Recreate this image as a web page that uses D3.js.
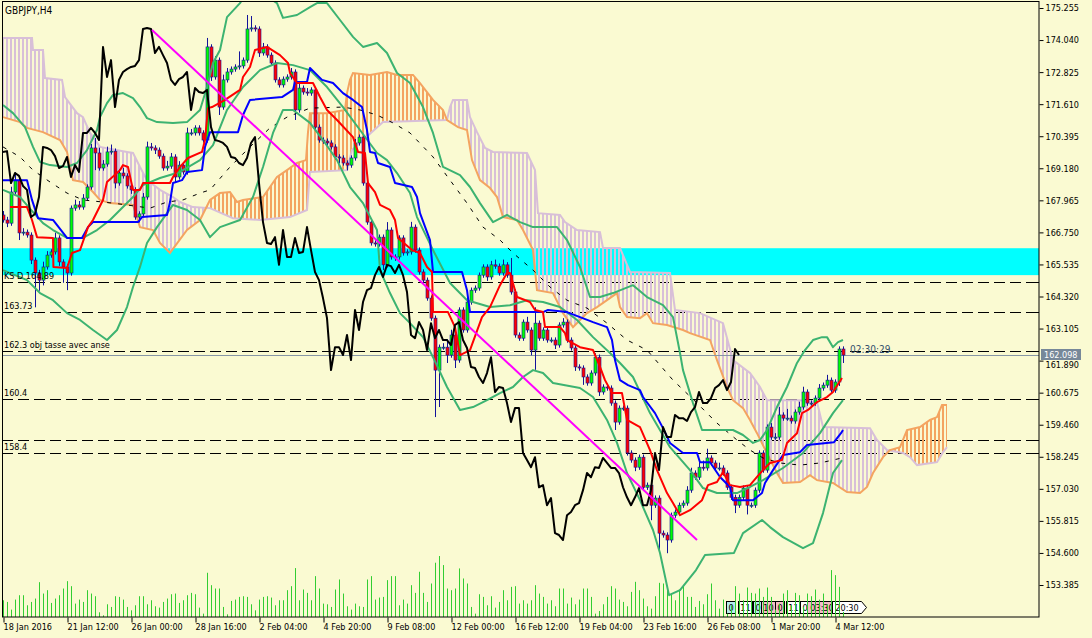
<!DOCTYPE html>
<html>
<head>
<meta charset="utf-8">
<title>GBPJPY,H4</title>
<script src="https://cdn.jsdelivr.net/npm/d3@7"></script>
<style>
html, body { margin: 0; padding: 0; background: #FAFAD2; }
svg { display: block; }
text { font-family: "DejaVu Sans Condensed", "DejaVu Sans", sans-serif; font-stretch: condensed; }
</style>
</head>
<body>
<div class="canvas"></div>
<script>
// ---- data (prices in JPY, bars are H4) ----
const firstOpen = 167.41;
const closes = [
  167.22, 167.10, 168.28, 168.73, 166.73, 166.76, 166.65, 165.70, 165.21, 164.94,
  165.44, 165.89, 166.01, 166.54, 165.63, 165.44, 165.21, 167.67, 167.79, 167.71,
  168.05, 168.47, 169.95, 169.76, 169.19, 169.34, 169.80, 169.83, 168.62, 169.00,
  168.89, 168.51, 168.36, 167.33, 167.45, 168.09, 169.99, 169.95, 169.87, 169.64,
  169.19, 169.26, 169.61, 168.85, 169.30, 169.04, 170.52, 170.52, 170.71, 170.52,
  170.25, 173.78, 172.64, 173.28, 171.50, 172.53, 172.83, 172.94, 173.02, 173.06,
  173.28, 174.46, 174.50, 174.46, 173.55, 173.78, 173.47, 173.17, 172.53, 172.34,
  172.56, 172.64, 172.83, 171.39, 172.22, 172.07, 172.03, 172.15, 170.74, 170.25,
  170.21, 170.14, 169.99, 169.61, 169.57, 169.38, 169.30, 169.57, 170.14, 170.36,
  168.62, 167.14, 166.35, 166.31, 166.57, 165.52, 166.84, 165.82, 165.82, 166.54,
  165.97, 166.01, 166.95, 166.08, 165.25, 164.94, 164.26, 163.50, 161.53, 162.40,
  162.40, 162.10, 162.86, 161.91, 163.81, 163.05, 164.11, 164.56, 164.64, 165.13,
  165.44, 165.06, 165.52, 165.47, 165.21, 165.52, 165.13, 164.49, 162.86, 162.74,
  163.35, 163.05, 162.29, 163.31, 162.74, 163.05, 162.67, 162.67, 162.48, 163.24,
  163.35, 162.67, 162.37, 161.65, 161.61, 161.27, 161.04, 161.42, 162.02, 160.70,
  160.89, 160.85, 160.28, 159.56, 160.09, 160.09, 158.39, 158.12, 157.85, 158.23,
  157.09, 157.17, 156.41, 156.68, 155.35, 155.28, 155.09, 156.03, 156.15, 156.41,
  156.49, 156.98, 157.63, 157.47, 157.85, 157.82, 158.20, 158.01, 157.82, 157.82,
  157.63, 157.09, 156.71, 156.41, 156.71, 157.06, 156.41, 156.41, 156.98, 158.39,
  157.74, 159.37, 158.99, 158.99, 159.83, 159.71, 159.71, 159.60, 159.94, 160.13,
  160.70, 160.28, 160.28, 160.47, 160.85, 160.96, 161.15, 160.77, 161.08, 162.33,
  162.10
];
const upWick = [
  .15,.12,.2,.3,.1,.15,.1,.1,.1,.12,  .2,.15,.1,.2,.1,.1,.1,.1,.2,.15,
  .15,.1,.15,.38,.2,.15,.2,.25,.1,.15, .2,.1,.1,.1,.1,.15,.2,.15,.1,.1,
  .1,.2,.15,.1,.15,.1,.2,.15,.1,.1,  .1,.34,.1,.15,.1,.2,.15,.1,.1,.55,
  .1,.53,.45,.1,.1,.15,.1,.1,.1,.1,  .1,.1,.15,.1,.2,.1,.15,.1,.1,.1,
  .1,.1,.1,.1,.1,.1,.1,.1,.15,.1,    .1,.1,.1,.1,.1,.1,.3,.1,.1,.1,
  .1,.1,.2,.1,.1,.1,.1,.1,.1,.1,     .15,.3,.2,.1,.1,.1,.15,.1,.1,.1,
  .1,.1,.15,.2,.1,.2,.1,.65,.1,.1,   .1,.2,.1,.6,.1,.1,.1,.1,.1,.1,
  .15,.1,.1,.1,.1,.1,.1,.1,.15,.1,   .1,.1,.1,.1,.1,.1,.1,.1,.1,.1,
  .1,.1,.1,.1,.1,.1,.1,.1,.1,.1,     .1,.15,.2,.1,.3,.25,.35,.1,.1,.2,
  .1,.1,.1,.1,.1,.1,.1,.1,.1,.1,     .1,.1,.15,.15,.3,.1,.35,.1,.1,.2,
  .2,.1,.1,.1,.15,.1,.2,.1,.1,.1,    .1
];
const dnWick = [
  .1,.15,.1,.1,.27,.1,.1,.15,1.3,.4, .2,.1,.1,.1,.15,.6,.65,.1,.1,.1,
  .1,.1,.1,.65,.1,.1,.1,.1,.2,.1,    .1,.1,.15,.1,.2,.1,.1,.1,.15,.1,
  .1,.1,.1,.2,.1,.1,.1,.1,.1,.1,     .1,.1,.15,.1,.3,.1,.1,.1,.1,.1,
  .1,.1,.1,.1,.15,.1,.1,.1,.1,.1,    .1,.1,.1,.38,.1,.1,.1,.1,.15,.1,
  .1,.1,.1,.1,.2,.1,.2,.1,.1,.1,     .1,.1,.1,.1,.1,.2,.1,.1,.15,.1,
  .1,.1,.1,.1,.1,.1,.1,.1,1.78,1.4,  .1,.3,.1,.3,.1,.1,.1,.1,.1,.1,
  .1,.15,.1,.1,.1,.1,.1,.1,.1,.1,    .1,.1,.2,.75,.1,.1,.1,.1,.15,.1,
  .1,.1,.1,.15,.1,.3,.1,.1,.1,.15,   .1,.1,.1,.3,.1,.1,.1,.1,.15,.1,
  .1,.1,.57,.1,.65,.1,.5,.1,.1,.1,   .1,.1,.1,.1,.1,.1,.1,.1,.1,.1,
  .1,.1,.1,.3,.1,.1,.35,.1,.1,.1,    .1,.1,.1,.1,.1,.1,.1,.1,.1,.1,
  .1,.1,.1,.1,.1,.1,.1,.1,.1,.15,    .3
];
const volumes = [
  5000,4500,2200,5200,6500,6500,3500,4500,5500,10400,
  7000,8000,4200,5500,6500,8500,10700,9200,4000,5200,
  4500,8000,7000,6200,1400,500,3800,3000,6200,6000,
  5200,3000,2000,3500,6200,6200,3800,5000,3200,2800,
  4500,5500,6800,7000,4200,5000,6500,7200,6800,2800,
  1000,13200,9500,8500,8500,3000,800,4800,5200,6000,
  6200,6000,3800,2000,5200,6000,6200,5800,3500,5000,
  5000,8000,9200,14600,5000,8200,7200,5000,12200,8500,
  4000,3800,3000,8200,11200,7000,3200,2200,4000,3200,
  3000,11200,12200,5200,5800,6000,11000,12200,12200,3500,
  5200,4000,9500,7200,13500,7200,4500,10000,16200,18200,
  15500,8500,8000,8500,14500,11500,10000,3000,1000,6800,
  6000,3500,6200,2800,4500,8000,5000,9000,9200,4000,
  5000,4000,5000,9500,7000,6000,4000,5000,3200,8500,
  8500,4000,5800,3800,5200,8500,8500,6000,1000,1800,
  3800,6000,9200,8500,5200,4500,3200,7500,10500,8000,
  5500,3200,2500,6200,10200,10000,8000,6800,5000,8200,
  9500,6000,6000,3000,4800,3800,6800,10000,5000,2500,
  5200,1000,3500,9200,7000,5000,8800,7200,7000,8500,
  6000,8800,6000,2200,4000,7000,8000,3500,7200,6500,
  3000,7000,6200,8200,5200,7000,3800,14000,12500,9000,
  1500
];

// indicator lines, [bar index, price]
const tenkan = [[1.75,167.71],[6,167.71],[7.25,167.22],[8.5,166.57],[12.5,166.54],[12.6,165.44],[16,165.40],[17.25,165.97],[19.25,166.08],[21.25,166.95],[22.5,167.22],[25,167.98],[26,168.66],[29.25,169.11],[30,169.30],[31.25,169.23],[32.5,168.36],[34.25,168.36],[35,168.62],[41.75,168.62],[42.5,168.85],[44.25,169.23],[46.25,169.57],[49.75,169.80],[50.5,170.25],[51.25,171.46],[52.25,171.50],[55.5,171.77],[59.25,172.15],[60,172.64],[61.75,173.02],[63,173.66],[66,173.78],[69.25,173.47],[71.25,173.17],[71.75,172.79],[73.5,172.41],[77.5,172.41],[79.25,171.88],[81,171.39],[83.5,171.01],[87.5,170.36],[88.75,169.80],[90.5,169.76],[91.25,168.62],[93,168.28],[94.25,167.79],[96.75,167.60],[98,167.22],[98.75,166.54],[102.25,166.08],[104.25,165.97],[106,165.44],[107.25,165.25],[107.5,163.73],[111.25,163.73],[113,163.16],[114.25,162.10],[116.75,162.29],[119.75,163.54],[121.75,163.92],[124.25,164.75],[126,165.21],[126.75,165.21],[128.5,164.30],[131.75,164.11],[133,163.81],[135,163.73],[135.5,163.16],[139.25,163.16],[140.5,162.93],[141,162.67],[144.25,162.40],[147.5,162.29],[149.25,161.65],[150.5,161.15],[152.25,160.66],[154.75,160.66],[156,159.64],[159.25,159.37],[161.75,158.50],[163.5,157.74],[166,156.87],[167.5,156.49],[169.25,156.03],[171.75,156.22],[174.75,156.60],[176.25,157.17],[178.5,157.29],[180,157.67],[181.75,157.17],[184.25,157.10],[186.75,157.17],[188.5,157.48],[190,157.74],[191.75,158.01],[194.75,158.12],[196,158.77],[198.5,159.14],[199.75,159.90],[201.25,160.02],[203.5,160.32],[206,160.51],[207.5,160.70],[209.75,161.23]];
const kijun = [[0,168.73],[6,168.73],[7.25,167.98],[8.75,167.29],[12.5,167.22],[16,166.54],[19.75,166.54],[21.25,166.95],[22.5,167.14],[33.75,167.14],[34.75,167.33],[41,167.41],[41.75,167.90],[42.5,168.62],[44.75,168.73],[46,169.04],[49.75,169.11],[50.5,169.99],[51.75,170.55],[58.75,170.55],[60,171.20],[61.75,171.77],[69.75,171.88],[72.5,172.15],[73,172.45],[76,172.45],[76.75,172.98],[79.75,172.53],[82.5,172.41],[85,172.03],[87.5,171.77],[89.75,171.50],[91,170.63],[91.75,169.80],[93,169.76],[93.75,169.38],[96.75,169.23],[98,168.62],[102.25,168.47],[103.5,168.09],[104.25,167.48],[106.75,166.46],[107.5,165.25],[114.75,165.25],[116,164.56],[116.75,163.73],[135,163.73],[136.25,163.81],[141,163.73],[144.25,163.54],[147.5,163.35],[151,163.16],[152.25,162.67],[153,161.91],[154.25,161.15],[156.25,160.96],[159.25,160.77],[160,160.51],[163,159.90],[165,159.33],[166.75,158.77],[170,158.39],[173.5,158.39],[174.25,158.04],[176.75,158.04],[179.25,157.48],[181.75,157.10],[182.5,156.60],[187.5,156.60],[189.75,156.87],[190.5,157.25],[192.5,157.74],[195,158.31],[199.25,158.42],[201,158.69],[207.75,158.80],[209.5,159.14],[210,159.26]];
const spanA = [[0,171.12],[4.25,170.93],[6,170.71],[10,170.55],[14.25,170.25],[16,169.80],[16.75,169.23],[17.5,168.73],[20,168.66],[22.5,168.28],[24.25,167.98],[26.75,167.86],[32.5,167.79],[34.25,166.95],[37.5,166.84],[39.25,166.35],[41.75,165.97],[46,166.84],[49.25,167.22],[51.75,167.98],[54.25,168.24],[56.75,168.28],[58.5,167.90],[60,167.98],[65,168.09],[68.5,168.85],[71,169.11],[73.5,169.38],[75.75,169.49],[76.25,170.55],[76.75,171.27],[81,171.27],[85.5,171.39],[86,172.03],[86.75,172.53],[87.5,172.79],[91.75,172.72],[96,172.83],[98.5,172.72],[102.5,172.72],[104.25,172.41],[107.5,171.77],[110,171.39],[111,171.01],[113.75,170.74],[116,170.63],[117.25,169.49],[119.25,168.73],[121.75,168.43],[123.5,168.09],[125,167.33],[128.5,167.22],[130,166.84],[132.5,166.08],[133.5,164.56],[137.5,164.45],[140,163.69],[142.5,163.16],[144.25,163.43],[146,163.69],[148.5,163.92],[151,164.18],[153.5,164.45],[154.25,163.92],[156,163.54],[159.25,163.50],[161,163.69],[162.5,163.31],[166,163.24],[170,163.05],[171.75,162.93],[176.75,162.67],[178.5,161.91],[181,160.89],[182.5,160.39],[185,160.09],[186.75,159.64],[188.5,159.14],[191,158.38],[193.5,157.63],[195,157.25],[199.25,157.29],[201.75,157.55],[203.5,157.36],[207.5,157.25],[211,156.91],[214.25,156.87],[216,157.10],[217.5,157.63],[220,158.23],[221.75,158.50],[224.25,158.61],[226,159.26],[229.25,159.37],[231.75,159.64],[233.5,159.75],[234.75,160.21],[236,160.21]];
const spanB = [[0,174.12],[7.25,174.12],[7.5,173.66],[10,173.66],[10.5,172.60],[14.75,172.53],[15.5,171.88],[18.5,171.27],[20,171.12],[21.75,170.52],[24.25,169.99],[31,169.80],[32.5,169.76],[34.25,169.23],[36,168.73],[39.25,168.36],[42.5,168.09],[44.25,167.90],[47.5,167.71],[51.75,167.67],[57.5,167.29],[64.25,167.22],[71.75,167.33],[76,167.60],[76.75,169.04],[86,169.11],[87.25,169.87],[95,170.93],[111,171.01],[111.75,171.50],[112.5,171.77],[116,171.77],[116.75,171.12],[118.5,170.55],[120.5,169.95],[122.5,169.80],[131,169.76],[133,169.11],[133.75,167.48],[139.25,167.41],[140.5,167.14],[143.5,166.84],[149.25,166.76],[150,166.16],[154.25,166.16],[156.75,165.25],[166.75,165.21],[168,163.81],[174.25,163.69],[180,163.31],[182.5,161.91],[186.75,161.42],[189.25,160.89],[191,160.39],[199.25,160.39],[203.5,160.32],[205,159.37],[216.75,159.33],[218.5,158.88],[221,158.50],[225,158.39],[226.75,158.23],[228.5,157.93],[233.5,158.04],[235,158.42],[236,158.61]];
const bbUpper = [[0,171.58],[2.5,171.27],[5.5,170.74],[7.5,169.99],[9.25,169.42],[11.75,169.30],[16,169.23],[18.5,169.38],[21,169.87],[23.5,170.63],[24.25,171.12],[26,171.65],[27.5,171.96],[30,172.03],[32.5,171.84],[34.25,171.50],[36,171.08],[38.5,170.93],[42.5,170.90],[46,170.93],[49.25,171.39],[51,172.26],[52.5,173.17],[54.25,173.66],[56,174.91],[59.25,175.44],[60.5,175.75],[64.25,175.86],[68.5,175.44],[70,174.88],[73.5,174.99],[76.75,175.29],[78.5,175.44],[81,175.44],[84.25,174.80],[87.5,174.16],[90,173.78],[93.5,173.93],[96,173.55],[98.5,172.79],[101.75,172.41],[105,171.50],[107.5,170.52],[110,169.23],[114.25,168.92],[116.75,168.47],[119.25,167.86],[122.5,167.14],[126,167.41],[129.25,167.14],[132.5,166.95],[138.5,166.95],[141,166.46],[144.25,165.44],[146.75,164.30],[149.25,164.30],[152.5,164.45],[157.5,164.75],[161,164.30],[165,163.99],[167.5,163.54],[169.25,162.18],[170,161.53],[172.5,160.28],[174.75,159.26],[182.5,159.26],[185,159.07],[187.5,158.77],[189.25,158.88],[191,159.26],[193.5,160.13],[196,160.89],[198.5,161.80],[200.5,162.29],[202.5,162.67],[204.75,162.78],[206,162.78],[207.5,162.40],[208.75,162.59],[210,162.67]];
const bbMiddle = [[0,168.36],[4.25,168.09],[7.5,167.52],[10,167.10],[12.5,166.84],[16,166.54],[20,166.54],[23.5,166.84],[26.75,167.22],[30,167.71],[32.5,168.09],[35,168.54],[39.25,168.81],[44.25,169.04],[49.25,169.49],[52.5,170.06],[56,171.39],[60,172.26],[64.25,172.90],[68.5,173.17],[72.5,173.09],[76.75,172.90],[81,172.26],[85,171.50],[89.25,170.63],[93.5,169.76],[96,169.49],[98.5,169.00],[101.75,168.24],[103.5,167.33],[107.5,166.08],[111.75,164.83],[116,164.18],[121.75,163.92],[126.75,163.99],[131,164.18],[135,164.11],[139.25,163.92],[143.5,163.43],[147.5,162.78],[151.75,162.18],[154.25,161.80],[157.5,161.27],[161.75,159.90],[166.75,158.61],[171.75,157.74],[175,157.06],[178.5,156.87],[183.5,156.87],[186.75,157.10],[190,157.36],[195,157.82],[200,158.39],[204.25,159.14],[207.5,159.90],[210,160.39]];
const bbLower = [[0,165.32],[6,164.94],[9.25,164.45],[12.5,164.18],[16,163.69],[19.25,163.43],[22.5,163.05],[26,162.67],[28.5,163.05],[31,163.92],[32.5,164.68],[34.25,165.44],[36,166.35],[38.5,166.95],[42.5,167.79],[46,167.60],[49.25,167.22],[51.75,166.57],[54.25,166.95],[59.25,167.22],[62.5,168.09],[65,169.23],[67.5,170.52],[70,171.39],[72.5,171.39],[76.75,170.90],[80,170.25],[83.5,169.49],[86.75,168.47],[90,167.86],[93.5,166.84],[94.25,165.32],[96.75,164.45],[99.25,163.69],[101.75,163.31],[105,162.78],[107.5,162.02],[111,160.89],[114.25,160.02],[117.5,160.13],[121,160.39],[124.25,160.66],[127.5,160.89],[130,161.27],[132.5,161.53],[135,161.42],[137.5,161.04],[144.25,160.85],[147.5,160.51],[151,159.64],[153.5,158.77],[156,157.63],[159.25,156.60],[162.5,155.47],[164.25,154.60],[166.5,153.00],[169.25,153.19],[173.25,153.95],[175.5,154.52],[182.75,154.60],[185,155.35],[189.75,155.85],[191.75,155.58],[195,155.20],[200,154.78],[202.5,154.97],[205,156.11],[207.5,157.63],[209.75,158.12]];
const maSlow = [[0,169.99],[4.25,169.61],[7.5,169.11],[11.75,168.66],[16,168.24],[20,167.98],[27.5,167.86],[36.75,167.67],[41,167.90],[45,167.98],[49.25,168.24],[51.75,168.36],[56.75,169.23],[61.75,169.99],[66.75,170.71],[71,171.12],[76.75,171.46],[85,171.50],[89.25,171.39],[93.5,171.20],[97.5,170.90],[101.75,170.52],[107.5,169.61],[111.75,168.73],[116,167.86],[120,166.95],[124.25,166.46],[127.5,165.97],[132.5,165.32],[136.75,164.68],[141,164.18],[146,163.88],[151,163.31],[156,162.67],[161,162.29],[167.5,161.15],[173.5,160.28],[178.5,159.52],[183.5,158.88],[186.75,158.50],[190,158.20],[194.25,158.01],[199.25,157.93],[204.25,158.01],[209.75,158.20]];

const chikouShift = 26;
const trendBars = [37.25, 173.5];
const trendPrices = [174.42, 155.09];
const zonePrices = [165.13, 166.15];
const levelPrices = [164.87, 163.73, 162.25, 160.43, 158.88, 158.38];
const levelLabels = ["KS D 164.89", "163.73", "162.3 obj tasse avec anse", "160.4", "", "158.4"];
const currentPrice = 162.098;
const timerText = "02:30:29";
const priceTicks = [175.255, 174.040, 172.825, 171.610, 170.395, 169.180, 167.965, 166.750, 165.535, 164.320,
  163.105, 161.890, 160.675, 159.460, 158.245, 157.030, 155.815, 154.600, 153.385];
const dateTickBars = [0, 16, 32, 48, 64, 80, 96, 112, 128, 144, 160, 176, 192, 208];
const dateLabels = ["18 Jan 2016", "21 Jan 12:00", "26 Jan 00:00", "28 Jan 16:00", "2 Feb 04:00", "4 Feb 20:00",
  "9 Feb 08:00", "12 Feb 00:00", "16 Feb 12:00", "19 Feb 04:00", "23 Feb 16:00", "26 Feb 08:00", "1 Mar 20:00", "4 Mar 12:00"];
const sessionTexts = ["0", "11", "0", "10", "0", "11", "0", "03:30", "20:30"];
const sessionBars = [180.75, 183.75, 187.5, 189.5, 193, 195.75, 199.25, 201, 207.25];
const sessionFills = ["#b4ecec", "#ffffff", "#b4ecec", "#f4bcc6", "#f4bcc6", "#ffffff", "#ffffff", "#f4bcc6", "#ffffff"];

// ---- drawing ----
const W = 1092, H = 638;
const right = 1039, bottom = 617;

const svg = d3.select('.canvas').append('svg')
    .attr('width', W)
    .attr('height', H);

svg.append('rect').attr('width', W).attr('height', H).attr('fill', '#FAFAD2');

const x = d3.scaleLinear().domain([0, 210]).range([3, 843]);
const y = d3.scaleLinear().domain([153.385, 175.255]).range([585, 8]);
const vol = d3.scaleLinear().domain([0, 20000]).range([bottom, 550]);

const defs = svg.append('defs');
defs.append('clipPath').attr('id', 'plotClip')
    .append('rect').attr('x', 2).attr('y', 1).attr('width', right - 2).attr('height', bottom - 1);

// vertical hatching, one line per bar
function hatch(id, color) {
    const p = defs.append('pattern').attr('id', id)
        .attr('patternUnits', 'userSpaceOnUse')
        .attr('x', 2).attr('y', 0).attr('width', 4).attr('height', 8);
    p.append('rect').attr('width', 2).attr('height', 8).attr('fill', color)
        .attr('shape-rendering', 'crispEdges');
}
hatch('hatchA', '#F4A460');
hatch('hatchB', '#D8BFD8');

const above = d3.area().x(d => x(d[0])).y0(0).y1(d => y(d[1]));
const below = d3.area().x(d => x(d[0])).y0(bottom).y1(d => y(d[1]));
defs.append('clipPath').attr('id', 'aboveA').append('path').attr('d', above(spanA));
defs.append('clipPath').attr('id', 'aboveB').append('path').attr('d', above(spanB));

const plot = svg.append('g').attr('clip-path', 'url(#plotClip)');

// support zone
plot.append('rect')
    .attr('x', 2).attr('width', right - 2)
    .attr('y', y(zonePrices[1]))
    .attr('height', y(zonePrices[0]) - y(zonePrices[1]))
    .attr('fill', '#00FFFF');

// horizontal levels
plot.selectAll('line.level').data(levelPrices).enter().append('line')
    .attr('class', 'level')
    .attr('x1', 2).attr('x2', right)
    .attr('y1', d => Math.round(y(d)) + 0.5).attr('y2', d => Math.round(y(d)) + 0.5)
    .attr('stroke', '#000').attr('stroke-width', 1).attr('stroke-dasharray', '11,5');

// ichimoku cloud
plot.append('path').attr('d', below(spanA)).attr('fill', 'url(#hatchA)').attr('clip-path', 'url(#aboveB)');
plot.append('path').attr('d', below(spanB)).attr('fill', 'url(#hatchB)').attr('clip-path', 'url(#aboveA)');

const line = d3.line().x(d => x(d[0])).y(d => y(d[1]));

plot.append('path').attr('d', line(spanB)).attr('fill', 'none').attr('stroke', '#D8BFD8').attr('stroke-width', 2);
plot.append('path').attr('d', line(spanA)).attr('fill', 'none').attr('stroke', '#F4A460').attr('stroke-width', 2);

// current price line
plot.append('line')
    .attr('x1', 2).attr('x2', right)
    .attr('y1', Math.round(y(currentPrice)) + 0.5).attr('y2', Math.round(y(currentPrice)) + 0.5)
    .attr('stroke', '#8796a6').attr('stroke-width', 1);

// session labels
const sess = plot.append('g');
sessionTexts.forEach((t, k) => {
    const x0 = Math.round(x(sessionBars[k])) + 0.5;
    const w = t.length * 5 + 4;
    if (k === sessionTexts.length - 1) {
        sess.append('path')
            .attr('d', `M${x0},601.5 h${w} l5,6 l-5,6 h${-w} Z`)
            .attr('fill', sessionFills[k]).attr('stroke', '#000');
    } else {
        sess.append('rect').attr('x', x0).attr('y', 601.5).attr('width', w).attr('height', 12)
            .attr('fill', sessionFills[k]).attr('stroke', '#000');
    }
    sess.append('text').attr('x', x0 + w / 2).attr('y', 611)
        .attr('text-anchor', 'middle').attr('font-size', 9).attr('fill', '#000').text(t);
});

// volumes
plot.selectAll('line.vol').data(volumes).enter().append('line')
    .attr('class', 'vol')
    .attr('x1', (d, i) => Math.round(x(i)) + 0.5).attr('x2', (d, i) => Math.round(x(i)) + 0.5)
    .attr('y1', bottom).attr('y2', d => vol(d))
    .attr('stroke', '#32CD32').attr('stroke-width', 1);

// candles
const candles = closes.map((c, i) => {
    const o = i === 0 ? firstOpen : closes[i - 1];
    return { i: i, o: o, c: c, h: Math.max(o, c) + upWick[i], l: Math.min(o, c) - dnWick[i] };
});
const cg = plot.append('g');
cg.selectAll('line').data(candles).enter().append('line')
    .attr('x1', d => Math.round(x(d.i)) + 0.5).attr('x2', d => Math.round(x(d.i)) + 0.5)
    .attr('y1', d => y(d.h)).attr('y2', d => y(d.l))
    .attr('stroke', '#12129a').attr('stroke-width', 1);
cg.selectAll('rect').data(candles).enter().append('rect')
    .attr('x', d => Math.round(x(d.i)) - 1)
    .attr('y', d => y(Math.max(d.o, d.c)))
    .attr('width', 3)
    .attr('height', d => Math.max(1, y(Math.min(d.o, d.c)) - y(Math.max(d.o, d.c))))
    .attr('fill', d => d.c >= d.o ? '#00FF00' : '#FF0000')
    .attr('stroke', '#12129a').attr('stroke-width', 0.6);

// indicator lines
function drawLine(data, color, width, dash) {
    const p = plot.append('path').attr('d', line(data))
        .attr('fill', 'none').attr('stroke', color).attr('stroke-width', width)
        .attr('stroke-linejoin', 'round');
    if (dash) p.attr('stroke-dasharray', dash);
}
drawLine(maSlow, '#000', 1, '4,7');
drawLine(bbUpper, '#3CB371', 2);
drawLine(bbMiddle, '#3CB371', 2);
drawLine(bbLower, '#3CB371', 2);
drawLine(kijun, '#0000FF', 2);
drawLine(tenkan, '#FF0000', 2);
drawLine(closes.slice(chikouShift).map((c, k) => [k, c]), '#000', 2);
drawLine(trendBars.map((b, k) => [b, trendPrices[k]]), '#FF00FF', 2);

// texts inside chart
svg.append('text').attr('x', 5).attr('y', 14).attr('font-size', 10).attr('fill', '#000').text('GBPJPY,H4');
svg.selectAll('text.lvl').data(levelPrices).enter().append('text')
    .attr('class', 'lvl')
    .attr('x', 4).attr('y', d => Math.round(y(d)) - 3)
    .attr('font-size', 9).attr('fill', '#000')
    .text((d, k) => levelLabels[k]);
svg.append('text').attr('x', x(210) + 7).attr('y', y(currentPrice) - 2)
    .attr('font-size', 10).attr('fill', '#34506e').text(timerText);

// frame
svg.append('rect').attr('x', 2.5).attr('y', 1.5).attr('width', right - 2.5).attr('height', bottom - 1.5)
    .attr('fill', 'none').attr('stroke', '#000').attr('stroke-width', 1);

// price axis
const yAxis = svg.append('g').attr('transform', `translate(${right + 0.5},0)`)
    .call(d3.axisRight(y).tickValues(priceTicks).tickSize(4).tickPadding(2).tickFormat(d3.format('.3f')));
yAxis.select('.domain').remove();
yAxis.selectAll('text').attr('font-size', 9).attr('fill', '#000').attr('font-family', null);
yAxis.selectAll('line').attr('stroke', '#000');
// the label next to the price tag peeks out just below it
yAxis.selectAll('.tick').filter(d => Math.abs(y(d) - y(currentPrice)) < 10)
    .select('text').attr('dy', '0.75em');

// level marks on the inside of the price axis
svg.selectAll('line.mark').data(levelPrices).enter().append('line')
    .attr('class', 'mark')
    .attr('x1', right - 4).attr('x2', right)
    .attr('y1', d => Math.round(y(d)) + 0.5).attr('y2', d => Math.round(y(d)) + 0.5)
    .attr('stroke', '#000');

// current price tag
const tagY = Math.round(y(currentPrice));
svg.append('rect').attr('x', right + 2).attr('y', tagY - 6).attr('width', 40).attr('height', 11).attr('fill', '#778899');
svg.append('text').attr('x', right + 5).attr('y', tagY + 3)
    .attr('font-size', 9).attr('fill', '#fff').text(d3.format('.3f')(currentPrice));

// time axis
const xAxis = svg.append('g').attr('transform', `translate(0,${bottom + 0.5})`)
    .call(d3.axisBottom(x).tickValues(dateTickBars).tickSize(5).tickFormat((d, k) => dateLabels[k]));
xAxis.select('.domain').remove();
xAxis.selectAll('line').attr('stroke', '#000').attr('transform', 'translate(0.5,0)');
xAxis.selectAll('text').attr('text-anchor', 'start').attr('x', 0).attr('y', 6)
    .attr('font-size', 9).attr('fill', '#000').attr('font-family', null);
</script>
</body>
</html>
